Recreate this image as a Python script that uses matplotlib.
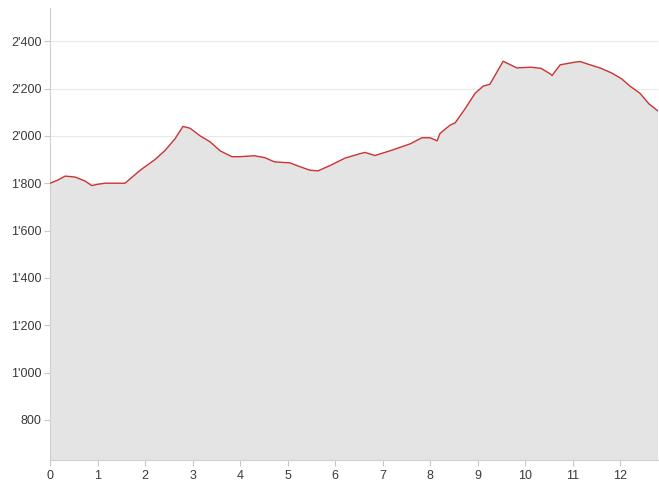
import matplotlib.pyplot as plt
from matplotlib.ticker import FuncFormatter

plt.rcParams["font.family"] = ["Liberation Sans", "DejaVu Sans"]

# distance (km) and elevation (m)
dist_km = [0.0, 0.15, 0.32, 0.53, 0.74, 0.88, 0.99, 1.16, 1.58, 1.90, 2.21, 2.42,
           2.63, 2.80, 2.95, 3.16, 3.37, 3.58, 3.83, 4.00, 4.30, 4.52, 4.73, 5.05,
           5.26, 5.47, 5.64, 5.90, 6.21, 6.53, 6.63, 6.84, 7.16, 7.58, 7.83, 8.00,
           8.15, 8.21, 8.42, 8.53, 8.74, 8.95, 9.12, 9.26, 9.54, 9.83, 10.13, 10.34,
           10.53, 10.57, 10.74, 11.07, 11.16, 11.37, 11.58, 11.83, 12.04, 12.21,
           12.42, 12.61, 12.80]
elev_m = [1800, 1812, 1830, 1826, 1809, 1790, 1795, 1800, 1800, 1855, 1900, 1938,
          1987, 2040, 2032, 2000, 1975, 1937, 1912, 1912, 1916, 1908, 1890, 1886,
          1870, 1855, 1852, 1875, 1906, 1925, 1930, 1917, 1937, 1966, 1992, 1992,
          1979, 2010, 2045, 2055, 2115, 2180, 2210, 2218, 2315, 2287, 2290, 2285,
          2262, 2255, 2300, 2312, 2314, 2300, 2287, 2265, 2240, 2210, 2180, 2135,
          2105]

y_ticks = [800, 1000, 1200, 1400, 1600, 1800, 2000, 2200, 2400]
x_ticks = list(range(0, 13))

fig = plt.figure(figsize=(6.59, 4.83), dpi=100)
ax = fig.add_axes([50 / 659, 23 / 483, 608 / 659, 452 / 483])

ax.fill_between(dist_km, elev_m, 0, color="#e4e4e4", linewidth=0, zorder=2)
ax.plot(dist_km, elev_m, color="#cc3333", linewidth=1.0, zorder=3)

ax.set_xlim(0, 12.8)
ax.set_ylim(631, 2540)
ax.set_xticks(x_ticks)
ax.set_yticks(y_ticks)
ax.yaxis.set_major_formatter(FuncFormatter(lambda v, _: f"{int(v):,}".replace(",", "'")))

ax.grid(axis="y", color="#e8e8e8", linewidth=0.8, zorder=1)
ax.set_axisbelow(True)
for side in ("top", "right"):
    ax.spines[side].set_visible(False)
for side in ("left", "bottom"):
    ax.spines[side].set_color("#d0d0d0")
    ax.spines[side].set_linewidth(0.8)

ax.tick_params(axis="both", colors="#c8c8c8", length=4, width=0.8,
               labelcolor="#3a3a3a", labelsize=9)
ax.tick_params(axis="x", pad=3)
ax.tick_params(axis="y", pad=2)

fig.savefig("out.png", dpi=100)
plt.close(fig)
